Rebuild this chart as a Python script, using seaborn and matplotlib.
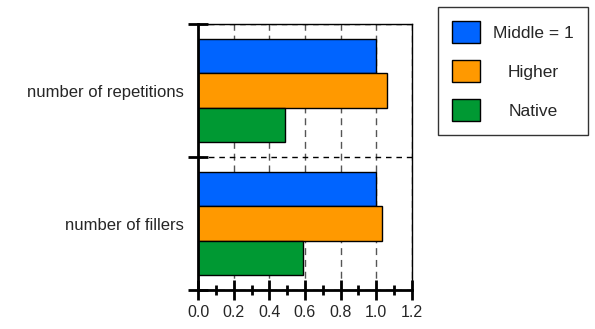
import pandas as pd
import matplotlib
matplotlib.use('Agg')
import matplotlib.pyplot as plt
import seaborn as sns
from matplotlib.ticker import MultipleLocator, FixedLocator

# values
measures = ['number of repetitions', 'number of fillers']
groups = ['Middle = 1', 'Higher', 'Native']
middle = [1.0, 1.0]
higher = [1.06, 1.03]
native = [0.49, 0.59]
colors = ['#0064FF', '#FF9900', '#009933']

df = pd.DataFrame({
    'measure': measures * 3,
    'group': [groups[0]] * 2 + [groups[1]] * 2 + [groups[2]] * 2,
    'value': middle + higher + native,
})

sns.set_style('white')
plt.rcParams['font.family'] = ['Liberation Sans', 'DejaVu Sans']

fig = plt.figure(figsize=(5.95, 3.29), dpi=100)
ax = fig.add_axes([0.3328, 0.1185, 0.3596, 0.8085])

sns.barplot(data=df, x='value', y='measure', hue='group', order=measures,
            hue_order=groups, palette=colors, orient='h', width=0.77,
            edgecolor='black', linewidth=1, saturation=1, errorbar=None, ax=ax)

ax.set_xlim(0, 1.2)
ax.set_ylim(1.5, -0.5)
ax.set_xlabel('')
ax.set_ylabel('')

# x ticks: major every 0.2, minor every 0.1, crossing the axis line
ax.xaxis.set_major_locator(MultipleLocator(0.2))
ax.xaxis.set_minor_locator(MultipleLocator(0.1))
ax.tick_params(axis='x', which='major', direction='inout', length=15, width=2,
               color='black', labelsize=11.5, pad=3, bottom=True)
ax.tick_params(axis='x', which='minor', direction='inout', length=7, width=2,
               color='black', bottom=True)

# y ticks: labels at categories, marks at category boundaries
ax.yaxis.set_minor_locator(FixedLocator([-0.5, 0.5, 1.5]))
ax.tick_params(axis='y', which='major', length=0, labelsize=12, pad=10)
ax.tick_params(axis='y', which='minor', direction='inout', length=15, width=2,
               color='black', left=True)

ax.grid(axis='x', which='major', color='#555555', linestyle=(0, (5, 3.5)), linewidth=1)
ax.grid(axis='y', which='minor', color='black', linestyle=(0, (4, 3.5)), linewidth=1)
ax.set_axisbelow(True)

for side in ['left', 'bottom']:
    ax.spines[side].set_linewidth(2)
    ax.spines[side].set_color('black')
for side in ['top', 'right']:
    ax.spines[side].set_linewidth(1)
    ax.spines[side].set_color('black')

leg = ax.legend(loc='upper left', bbox_to_anchor=(438 / 595, 1 - 7 / 329),
                bbox_transform=fig.transFigure, frameon=True, fancybox=False,
                fontsize=12.5, handlelength=1.62, handleheight=1.62,
                labelspacing=0.95, borderpad=0.8, handletextpad=0.75,
                borderaxespad=0)
leg.get_frame().set_edgecolor('black')
leg.get_frame().set_linewidth(1)

# centre the legend labels in their column
fig.canvas.draw()
renderer = fig.canvas.get_renderer()
widths = [t.get_window_extent(renderer).width for t in leg.get_texts()]
for t, w in zip(leg.get_texts(), widths):
    t.set_position(((max(widths) - w) / 2, 0))

fig.savefig('out.png', dpi=100)
